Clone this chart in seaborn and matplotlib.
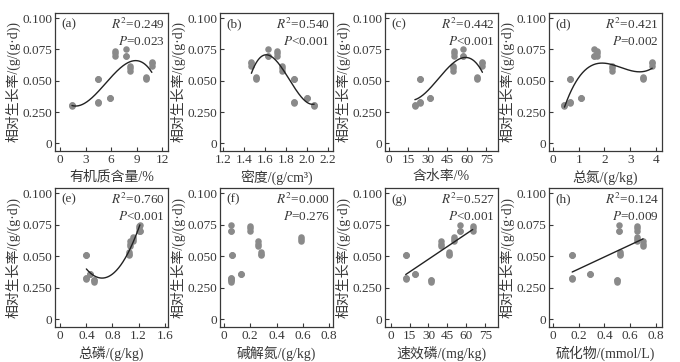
import numpy as np
import pandas as pd
import matplotlib
matplotlib.use("Agg")
import matplotlib.pyplot as plt
import seaborn as sns

# relative growth rate of each replicate, and the sampling site it belongs to
growth = [0.030, 0.031, 0.031, 0.032, 0.033, 0.033, 0.036, 0.036, 0.036,
          0.051, 0.051, 0.051, 0.051, 0.052, 0.053, 0.058, 0.060, 0.062,
          0.062, 0.064, 0.065, 0.070, 0.072, 0.074, 0.070, 0.070, 0.075]
site = [0, 0, 0, 1, 1, 1, 2, 2, 2, 3, 3, 3, 4, 4, 4, 5, 5, 5,
        6, 6, 6, 7, 7, 7, 8, 8, 8]

# soil property of each site (sites 0..8)
organic = [1.4, 4.5, 5.9, 4.5, 10.1, 8.2, 10.8, 6.5, 7.8]
density = [2.07, 1.88, 2.00, 1.88, 1.51, 1.76, 1.47, 1.71, 1.63]
water = [20, 24, 32, 24, 68, 49, 72, 50, 57]
total_n = [0.45, 0.65, 1.10, 0.65, 3.50, 2.30, 3.85, 1.70, 1.60]
total_p = [0.52, 0.40, 0.45, 0.40, 1.05, 1.07, 1.12, 1.20, 1.22]
alk_n = [0.05, 0.05, 0.13, 0.06, 0.28, 0.26, 0.59, 0.20, 0.05]
avail_p = [32, 12, 19, 12, 46, 40, 50, 65, 55]
sulfide = [0.50, 0.15, 0.29, 0.15, 0.52, 0.70, 0.65, 0.65, 0.51]

letters = ["(a)", "(b)", "(c)", "(d)", "(e)", "(f)", "(g)", "(h)"]
xlabels = ["有机质含量/%", "密度/(g/cm³)", "含水率/%", "总氮/(g/kg)",
           "总磷/(g/kg)", "碱解氮/(g/kg)", "速效磷/(mg/kg)", "硫化物/(mmol/L)"]
r2_text = ["0.249", "0.540", "0.442", "0.421", "0.760", "0.000", "0.527", "0.124"]
p_text = ["=0.023", "<0.001", "<0.001", "=0.002", "<0.001", "=0.276", "<0.001", "=0.009"]
fit_degree = [3, 3, 3, 3, 2, 0, 1, 1]
xticks = [[0, 3, 6, 9, 12], [1.2, 1.4, 1.6, 1.8, 2.0, 2.2], [0, 15, 30, 45, 60, 75],
          [0, 1, 2, 3, 4], [0, 0.4, 0.8, 1.2, 1.6], [0, 0.2, 0.4, 0.6, 0.8],
          [0, 15, 30, 45, 60, 75], [0, 0.2, 0.4, 0.6, 0.8]]
xticklabels = [["0", "3", "6", "9", "12"], ["1.2", "1.4", "1.6", "1.8", "2.0", "2.2"],
               ["0", "15", "30", "45", "60", "75"], ["0", "1", "2", "3", "4"],
               ["0", "0.4", "0.8", "1.2", "1.6"], ["0", "0.2", "0.4", "0.6", "0.8"],
               ["0", "15", "30", "45", "60", "75"], ["0", "0.2", "0.4", "0.6", "0.8"]]
yticks = [0, 0.025, 0.05, 0.075, 0.1]
yticklabels = ["0", "0.250", "0.050", "0.075", "0.100"]
ylabel = "相对生长率/(g/(g·d))"

props = [organic, density, water, total_n, total_p, alk_n, avail_p, sulfide]
xlims = [(-0.6, 12.7), (1.17, 2.25), (-3, 84), (-0.15, 4.23),
         (-0.08, 1.65), (-0.03, 0.83), (-4.4, 85), (-0.03, 0.847)]

sns.set_theme(style="ticks")
plt.rcParams["font.family"] = ["Liberation Serif", "Noto Sans CJK SC", "DejaVu Sans"]
plt.rcParams["mathtext.fontset"] = "stix"
plt.rcParams["font.size"] = 9
TXT = "#383838"

W, H = 680, 362
fig = plt.figure(figsize=(W / 100, H / 100), dpi=100)
col_left = [55, 220, 385, 549]
row_top = [13, 188]
row_bottom = [151, 327]
ax_w = 113

for i, xs in enumerate(props):
    r, c = divmod(i, 4)
    left = col_left[c]
    top, bottom = row_top[r], row_bottom[r]
    ax = fig.add_axes([left / W, 1 - bottom / H, ax_w / W, (bottom - top) / H])

    df = pd.DataFrame({"x": [xs[s] for s in site], "y": growth})
    sns.scatterplot(data=df, x="x", y="y", ax=ax, color="#8a8a8a", s=22,
                    edgecolor="#8a8a8a", linewidth=0, zorder=2)
    deg = fit_degree[i]
    if deg > 0:
        coef = np.polyfit(df["x"], df["y"], deg)
        gx = np.linspace(min(xs), max(xs), 200)
        fit = pd.DataFrame({"x": gx, "y": np.polyval(coef, gx)})
        sns.lineplot(data=fit, x="x", y="y", ax=ax, color="#222222", lw=1.0, zorder=3)

    ax.set_xlim(*xlims[i])
    ax.set_ylim(-0.006, 0.104)
    ax.set_xticks(xticks[i])
    ax.set_xticklabels(xticklabels[i])
    ax.set_yticks(yticks)
    ax.set_yticklabels(yticklabels)
    ax.tick_params(direction="in", length=3, width=0.8, colors=TXT,
                   labelsize=9.5, pad=2)
    for sp in ax.spines.values():
        sp.set_color(TXT)
        sp.set_linewidth(0.9)
    ax.set_xlabel(xlabels[i], fontsize=10, color=TXT, labelpad=3)
    ax.set_ylabel(ylabel, fontsize=10, color=TXT, labelpad=1)

    ax.text(0.06, 0.96, letters[i], transform=ax.transAxes, ha="left", va="top",
            fontsize=9.5, color=TXT)
    ax.text(0.97, 0.97, "$R^2$=" + r2_text[i], transform=ax.transAxes, ha="right",
            va="top", fontsize=9.5, color=TXT)
    ax.text(0.97, 0.84, "$P$" + p_text[i], transform=ax.transAxes, ha="right",
            va="top", fontsize=9.5, color=TXT)

fig.savefig("out.png", dpi=100)
